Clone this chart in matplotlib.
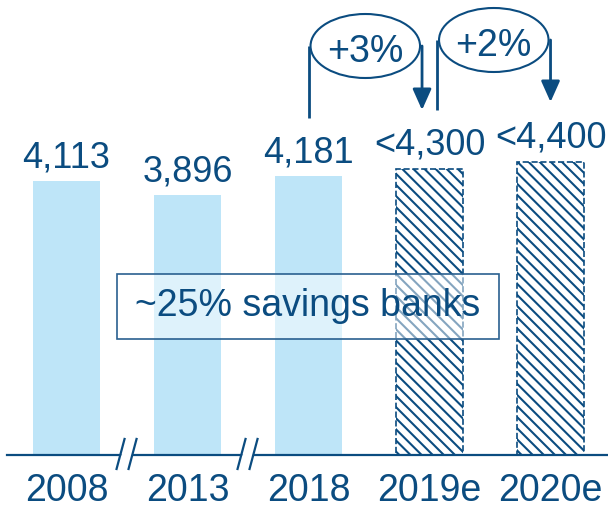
import matplotlib.pyplot as plt
from matplotlib.patches import Ellipse, Rectangle

# branch counts per year, last two are estimates
years = ["2008", "2013", "2018", "2019e", "2020e"]
branches = [4113, 3896, 4181, 4300, 4400]
value_labels = ["4,113", "3,896", "4,181", "<4,300", "<4,400"]
is_estimate = [False, False, False, True, True]

# growth bubbles between bars
growth_labels = ["+3%", "+2%"]
growth_from = [2, 3]
growth_to = [3, 4]
share_note = "~25% savings banks"

DARK = "#0B4C80"
LIGHT = "#BEE5F8"
W, H = 608, 508

plt.rcParams["font.family"] = ["Liberation Sans", "DejaVu Sans"]
plt.rcParams["hatch.linewidth"] = 1.5

fig = plt.figure(figsize=(W / 100, H / 100), dpi=100)
ax = fig.add_axes([0, 0, 1, 1])
XMIN, XMAX = -0.55, 4.475
YMIN, YMAX = -796, 6830
ax.set_xlim(XMIN, XMAX)
ax.set_ylim(YMIN, YMAX)
ax.axis("off")

ux = (XMAX - XMIN) / W   # data units per pixel
uy = (YMAX - YMIN) / H


def pix(px, py):
    # pixel position (from top-left) -> data coords
    return XMIN + px * ux, YMAX - py * uy


xs = list(range(len(years)))
for i in xs:
    if is_estimate[i]:
        ax.bar(i, branches[i], width=0.55, facecolor="white", edgecolor=DARK,
               hatch="\\\\\\", linestyle="--", linewidth=1.2, zorder=2)
    else:
        ax.bar(i, branches[i], width=0.55, color=LIGHT, zorder=2)
    ax.annotate(value_labels[i], (i, branches[i]), xytext=(0, 10),
                textcoords="offset points", ha="center", va="baseline",
                fontsize=26, color=DARK)
    ax.annotate(years[i], (i, 0), xytext=(0, -33), textcoords="offset points",
                ha="center", va="baseline", fontsize=27, color=DARK)

# baseline
ax.plot([XMIN + 7 * ux, XMAX], [0, 0], color=DARK, lw=1.6, zorder=3)

# axis break marks between non-consecutive years
for bx in [0.5, 1.5]:
    ax.fill([bx - 6 * ux, bx - 4 * ux, bx + 5 * ux, bx + 3 * ux],
            [-4 * uy, 4 * uy, 4 * uy, -4 * uy], color="white", zorder=4)
    for off in [-10.5, 1.5]:
        ax.plot([bx + off * ux, bx + (off + 8) * ux], [-14 * uy, 16 * uy],
                color=DARK, lw=1.6, zorder=5)

# note box
bx0, by0 = pix(117, 339)
bx1, by1 = pix(499, 274)
ax.add_patch(Rectangle((bx0, by0), bx1 - bx0, by1 - by0, facecolor=(1, 1, 1, 0.5),
                       edgecolor="#2A6090", lw=1.2, zorder=6))
tx, ty = pix(308, 306)
ax.text(tx, ty, share_note, ha="center", va="center", fontsize=27, color=DARK, zorder=7)

# growth bubbles with down arrows
left_off = [0, 7.5]
right_off = [-7.5, 0]
mid_py = [46, 40]
left_end_py = [118, 110]
tip_py = [110, 102]
for k, lab in enumerate(growth_labels):
    xl = growth_from[k] + left_off[k] * ux
    xr = growth_to[k] + right_off[k] * ux
    _, ym = pix(0, mid_py[k])
    _, yl = pix(0, left_end_py[k])
    _, yt = pix(0, tip_py[k])
    ax.plot([xl, xl], [ym, yl], color=DARK, lw=2, solid_capstyle="butt")
    ax.annotate("", xy=(xr, yt), xytext=(xr, ym),
                arrowprops=dict(arrowstyle="-|>,head_length=0.85,head_width=0.38",
                                mutation_scale=15, lw=2, color=DARK,
                                shrinkA=0, shrinkB=0))
    ax.add_patch(Ellipse(((xl + xr) / 2, ym), (xr - xl) - 4 * ux, 64 * uy,
                         facecolor="white", edgecolor=DARK, lw=1.5, zorder=5))
    _, yb = pix(0, mid_py[k] + 16)
    ax.text((xl + xr) / 2, yb, lab, ha="center", va="baseline", fontsize=27,
            color=DARK, zorder=6)

fig.savefig("out.png", dpi=100)
